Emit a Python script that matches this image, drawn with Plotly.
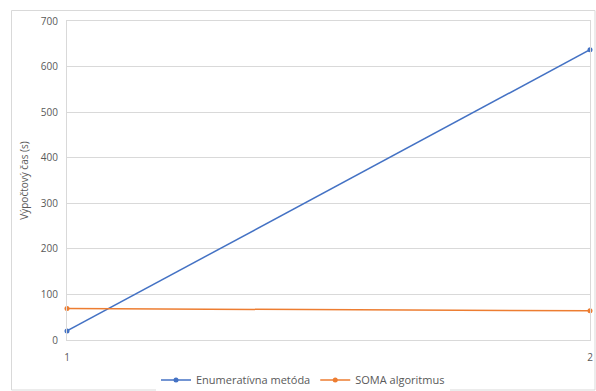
import plotly.graph_objects as go

x_vals = [1, 2]
enum_vals = [20, 637]
soma_vals = [69, 64]
y_ticks = [0, 100, 200, 300, 400, 500, 600, 700]

W, H = 596, 391
ml, mr, mt, mb = 67, 6, 21, 51
pw, ph = W - ml - mr, H - mt - mb

def px(x):
    return (x - ml) / pw

def py(y):
    return (H - mb - y) / ph

font = "Open Sans"
fig = go.Figure()
fig.add_trace(go.Scatter(x=x_vals, y=enum_vals, mode="lines+markers",
                         name="Enumeratívna metóda",
                         line=dict(color="#4472C4", width=1.5),
                         marker=dict(size=5, color="#4472C4"),
                         cliponaxis=False))
fig.add_trace(go.Scatter(x=x_vals, y=soma_vals, mode="lines+markers",
                         name="SOMA algoritmus",
                         line=dict(color="#ED7D31", width=1.5),
                         marker=dict(size=5, color="#ED7D31"),
                         cliponaxis=False))

fig.update_layout(
    width=W, height=H,
    margin=dict(l=ml, r=mr, t=mt, b=mb, autoexpand=False),
    paper_bgcolor="white", plot_bgcolor="white",
    font=dict(family=font, size=10, color="#595959"),
    showlegend=True,
    legend=dict(orientation="h", x=px(303), xanchor="center", y=py(380), yanchor="middle",
                font=dict(size=11, color="#595959"), itemwidth=30),
    shapes=[dict(type="rect", xref="paper", yref="paper",
                 x0=px(11.5), x1=px(595), y0=py(390), y1=py(10.5),
                 line=dict(color="#D9D9D9", width=1), layer="below")],
)
fig.update_xaxes(range=[1, 2], tickvals=x_vals, ticktext=[str(v) for v in x_vals],
                 showgrid=False, showline=True, linecolor="#D9D9D9", linewidth=1,
                 mirror=True, zeroline=False, ticks="outside", ticklen=8, tickcolor="white",
                 tickfont=dict(size=10, color="#595959"))
fig.update_yaxes(range=[0, 700], tickvals=y_ticks, showgrid=True, gridcolor="#D9D9D9",
                 gridwidth=1, showline=True, linecolor="#D9D9D9", mirror=True,
                 zeroline=False, ticks="outside", ticklen=6, tickcolor="white",
                 tickfont=dict(size=10, color="#595959"),
                 title=dict(text="Výpočtový čas (s)", font=dict(size=10, color="#595959"),
                            standoff=10))

fig.write_html("out.html", config={"displayModeBar": False},
               post_script="document.body.style.margin='0';document.body.style.overflow='hidden';")
